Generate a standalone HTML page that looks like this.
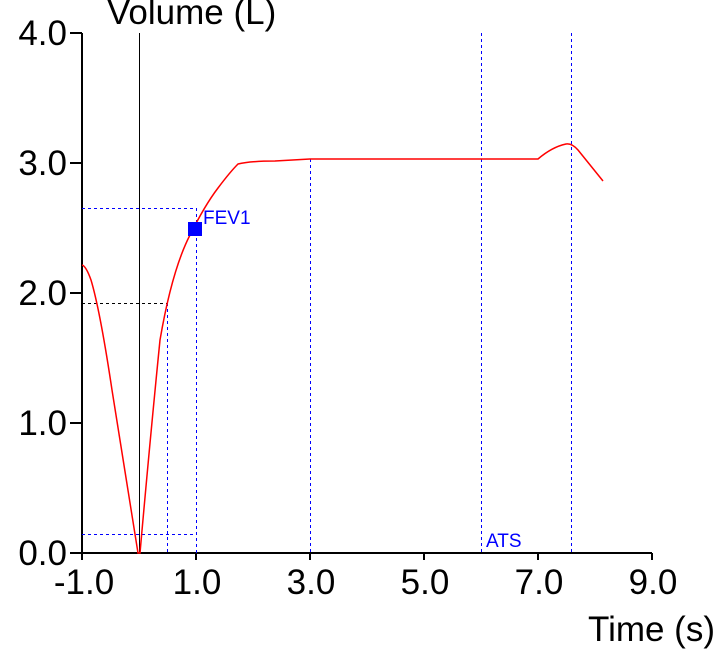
<!DOCTYPE html><html><head><style>body{margin:0;background:#fff}svg{display:block}text{font-family:"Liberation Sans",sans-serif}</style></head><body>
<svg width="726" height="658" xmlns="http://www.w3.org/2000/svg">
<g font-size="35" fill="#000">
<text x="107" y="24">Volume (L)</text>
<text x="715" y="641" text-anchor="end">Time (s)</text>
<g text-anchor="end">
<text x="67" y="45">4.0</text><text x="67" y="175">3.0</text><text x="67" y="305">2.0</text><text x="67" y="435">1.0</text><text x="67" y="565">0.0</text>
</g>
<g text-anchor="middle">
<text x="84" y="594">-1.0</text><text x="197" y="594">1.0</text><text x="311" y="594">3.0</text><text x="425" y="594">5.0</text><text x="539" y="594">7.0</text><text x="653" y="594">9.0</text>
</g></g>
<g stroke="#000" stroke-width="2" fill="none">
<line x1="82" y1="33" x2="82" y2="560"/><line x1="70" y1="553" x2="652" y2="553"/>
<path d="M70 33H82M70 163H82M70 293H82M70 423H82M196 553V560M310 553V560M424 553V560M538 553V560M652 553V560"/>
<line x1="139.5" y1="33" x2="139.5" y2="553" stroke-width="1"/>
<line x1="82" y1="303.5" x2="167" y2="303.5" stroke-dasharray="3,3" stroke-width="1"/>
</g>
<g stroke="#00f" stroke-width="1" fill="none" stroke-dasharray="3,3">
<line x1="82" y1="208.5" x2="196" y2="208.5"/>
<line x1="196.5" y1="208" x2="196.5" y2="553"/>
<line x1="167.5" y1="303" x2="167.5" y2="553"/>
<line x1="82" y1="534.5" x2="196" y2="534.5"/>
<line x1="310.5" y1="159" x2="310.5" y2="553"/>
<line x1="481.5" y1="33" x2="481.5" y2="553"/>
<line x1="571.5" y1="33" x2="571.5" y2="553"/>
</g>
<path d="M82 265 Q86 266 91 280 Q100 310 112 390 Q126 480 138 553 L140 553 Q150 440 160 340 Q172 270 190 235 Q205 205 218 188 Q230 172 238 164 Q250 161 275 161 L310 159 L538 159 Q552 147 566 144 Q572 143 578 150 L603 181" stroke="#f00" stroke-width="1.5" fill="none"/>
<rect x="188" y="222" width="14" height="14" fill="#00f"/>
<g fill="#00f" font-size="19"><text x="203" y="224">FEV1</text><text x="486" y="547">ATS</text></g>
</svg></body></html>
